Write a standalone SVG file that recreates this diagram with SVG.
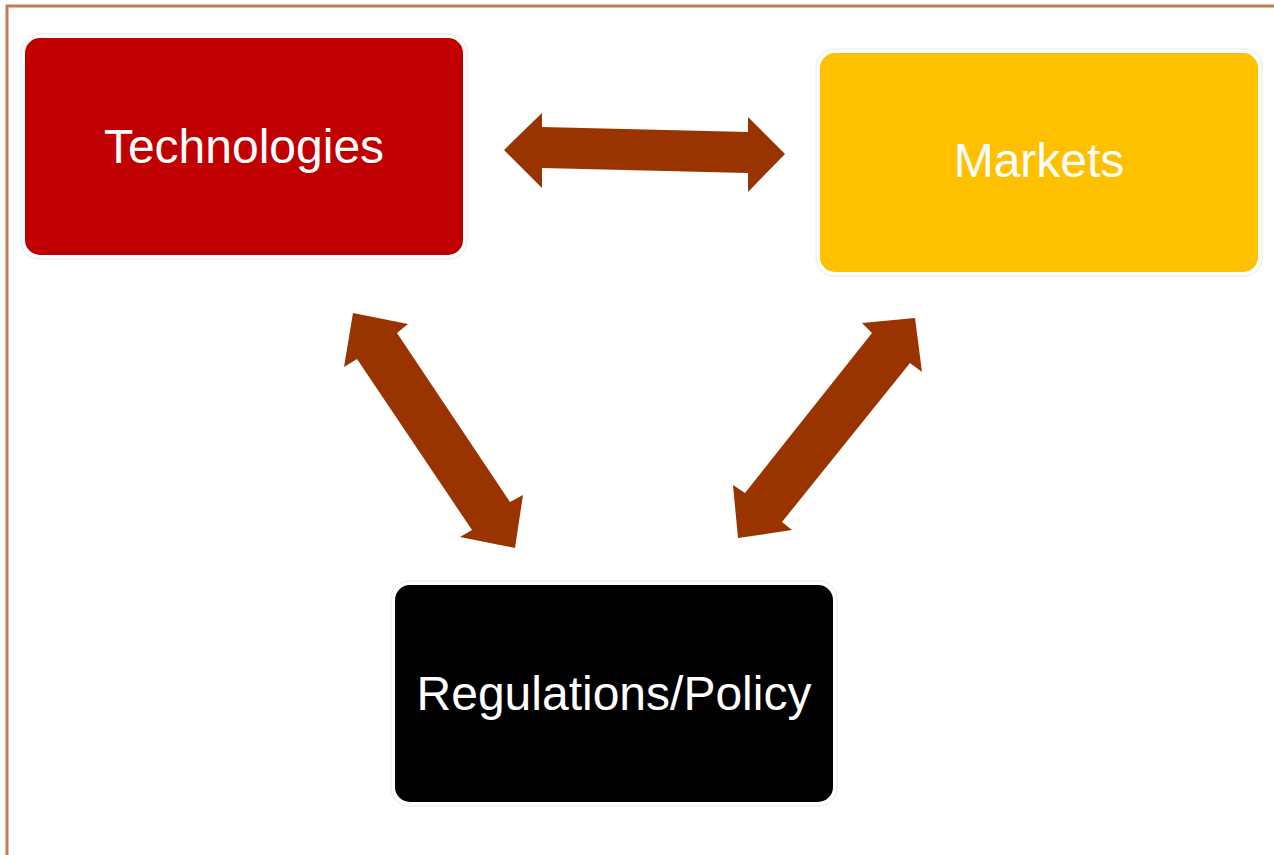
<svg xmlns="http://www.w3.org/2000/svg" width="1274" height="855" viewBox="0 0 1274 855">
<style>
.halo{fill:#fff;stroke:#e8e8e8;stroke-width:1}
.lbl{font-family:"Liberation Sans",Arial,sans-serif;font-size:48px;fill:#fff;text-anchor:middle}
.arr{fill:#993300}
</style>
<rect x="0" y="0" width="1274" height="855" fill="#fff"/>
<path d="M7,855 V6 H1274" fill="none" stroke="#c47a55" stroke-width="3"/>
<g id="connectors">
<polygon class="arr" points="504,150 542,113 542,127 748,132 748,117 785,154 748,192 748,173 542,168 542,188"/>
<polygon class="arr" points="353,313 408,324 397,333 510,502 523,495 515,548 460,537 472,530 357,359 344,367"/>
<polygon class="arr" points="915,318 922,372 910,363 782,522 792,530 738,538 733,485 745,493 872,333 862,323"/>
</g>
<g id="technologies">
<rect class="halo" x="21" y="34" width="446" height="225" rx="18"/>
<rect x="25" y="38" width="438" height="217" rx="15" fill="#c00000"/>
<text class="lbl" x="244" y="163">Technologies</text>
</g>
<g id="markets">
<rect class="halo" x="816" y="49" width="446" height="227" rx="18"/>
<rect x="820" y="53" width="438" height="219" rx="15" fill="#ffc000"/>
<text class="lbl" x="1039" y="177">Markets</text>
</g>
<g id="regulations">
<rect class="halo" x="391" y="581" width="446" height="225" rx="18"/>
<rect x="395" y="585" width="438" height="217" rx="15" fill="#000"/>
<text class="lbl" x="614" y="710">Regulations/Policy</text>
</g>
</svg>
